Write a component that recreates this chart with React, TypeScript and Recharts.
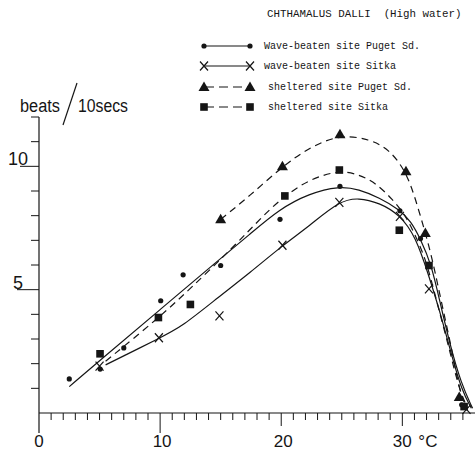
import { ComposedChart, Line, Scatter, XAxis, YAxis, Customized } from 'recharts'

// Heart beat rate (beats per 10 s) against temperature (°C), Chthamalus dalli at high water

// measured readings
const wavePugetTemp = [2.5, 5.05, 7, 10.05, 11.9, 15, 19.9, 24.85, 29.8, 31.5, 34.9]
const wavePugetRate = [1.38, 1.78, 2.64, 4.55, 5.6, 5.98, 7.85, 9.19, 8.2, 7.07, 0.33]

const waveSitkaTemp = [5, 9.9, 14.9, 20.1, 24.8, 29.8, 32.2, 35.3]
const waveSitkaRate = [1.9, 3.05, 3.94, 6.8, 8.54, 7.97, 5.03, 0.15]

const shelteredPugetTemp = [15, 20.1, 24.85, 30.3, 31.9, 34.7]
const shelteredPugetRate = [7.85, 10.0, 11.3, 9.8, 7.3, 0.65]

const shelteredSitkaTemp = [5.04, 9.86, 12.5, 20.3, 24.8, 29.75, 32.2, 35.1]
const shelteredSitkaRate = [2.4, 3.87, 4.4, 8.8, 9.85, 7.41, 5.98, 0.26]

// hand-fitted curves through each set of readings
const wavePugetCurveTemp = [2.5, 5, 10, 15, 17.4, 19.8, 22.3, 24.8, 26.4, 28.1, 29.75, 30.7, 31.5, 32.4, 33.06, 33.9, 34.85, 35.8]
const wavePugetCurveRate = [1.07, 2.12, 4.19, 6.27, 7.24, 8.25, 8.9, 9.2, 9.07, 8.73, 8.25, 7.78, 7.06, 6.02, 4.6, 2.83, 1.2, 0.19]

const waveSitkaCurveTemp = [5.5, 10, 11.8, 14.9, 17.4, 20.1, 22.3, 24.8, 26.4, 28.1, 29.75, 31.1, 32.2, 33.06, 34.1, 34.9, 35.7]
const waveSitkaCurveRate = [1.95, 3.05, 3.5, 4.73, 5.68, 6.79, 7.57, 8.6, 8.73, 8.52, 8.05, 7.17, 5.54, 4.19, 2.29, 0.93, 0.19]

const shelteredPugetCurveTemp = [15, 17.4, 20.1, 22.3, 24.85, 27.3, 28.9, 30.3, 31.1, 31.9, 32.5, 33.3, 34.1, 34.7, 35.3]
const shelteredPugetCurveRate = [7.85, 8.8, 10.0, 10.76, 11.3, 11.1, 10.7, 9.8, 8.66, 7.3, 6.2, 4.32, 2.56, 0.93, 0.19]

const shelteredSitkaCurveTemp = [5.5, 10, 12.5, 16, 18.7, 20.3, 22.3, 24.8, 26.4, 27.8, 29.2, 30.3, 31.1, 31.95, 32.8, 33.9, 34.7, 35.4]
const shelteredSitkaCurveRate = [2.1, 3.9, 5.05, 6.7, 8.1, 8.8, 9.47, 9.85, 9.67, 9.33, 8.66, 7.98, 7.17, 6.22, 4.6, 2.56, 0.93, 0.19]

const legendLabels = [
  'Wave-beaten site Puget Sd.',
  'wave-beaten site Sitka',
  'sheltered site Puget Sd.',
  'sheltered site Sitka',
]

const xTicks = Array.from({ length: 36 }, (_, i) => i)
const yTicks = Array.from({ length: 13 }, (_, i) => i)
const xLabelTicks = [0, 10, 20, 30]
const yLabelTicks = [5, 10]

const INK = '#151515'
const DASH = '7 5'
const MONO = '"Liberation Mono", "DejaVu Sans Mono", monospace'
const SANS = '"Liberation Sans", Arial, sans-serif'

const toPoints = (temps: number[], rates: number[]) => temps.map((t, i) => ({ t, v: rates[i] }))

// marker glyphs
const DotMark = ({ cx, cy }: any) => <circle cx={cx} cy={cy} r={2.6} fill={INK} />
const CrossMark = ({ cx, cy }: any) => (
  <path
    d={`M${cx - 4},${cy - 4.5}L${cx + 4},${cy + 4.5}M${cx + 4},${cy - 4.5}L${cx - 4},${cy + 4.5}`}
    stroke={INK}
    strokeWidth={1.2}
    fill="none"
  />
)
const TriMark = ({ cx, cy }: any) => (
  <polygon points={`${cx},${cy - 5.5} ${cx + 5.5},${cy + 4} ${cx - 5.5},${cy + 4}`} fill={INK} />
)
const SquareMark = ({ cx, cy }: any) => <rect x={cx - 3.8} y={cy - 3.8} width={7.6} height={7.6} fill={INK} />

const markers = [DotMark, CrossMark, TriMark, SquareMark]

const XTick = ({ x, y, payload }: any) => {
  const v = payload.value
  if (v === 0) {
    // axis continues a little below the origin
    return (
      <g>
        <line x1={x} y1={y} x2={x} y2={y + 20} stroke={INK} strokeWidth={1.2} />
        <text x={x} y={y + 34} textAnchor="middle" fontFamily={SANS} fontSize={17} fill={INK}>0</text>
      </g>
    )
  }
  const labelled = xLabelTicks.includes(v)
  const len = v === 10 ? 20 : labelled ? 13 : 7
  return (
    <g>
      <line x1={x} y1={y} x2={x} y2={y + len} stroke={INK} strokeWidth={1} />
      {labelled && v !== 30 && (
        <text x={x + 2} y={y + 34} textAnchor="middle" fontFamily={SANS} fontSize={17} fill={INK}>{v}</text>
      )}
      {v === 30 && (
        <g>
          <text x={x} y={y + 34} textAnchor="middle" fontFamily={SANS} fontSize={17} fill={INK}>30</text>
          <text x={x + 16} y={y + 34} fontFamily={SANS} fontSize={17} fill={INK}>°C</text>
        </g>
      )}
    </g>
  )
}

const YTick = ({ x, y, payload }: any) => {
  const v = payload.value
  if (v === 0) return <g />
  const labelled = yLabelTicks.includes(v)
  const len = v === 5 ? 22 : v === 10 ? 19 : 8
  return (
    <g>
      <line x1={x} y1={y} x2={x - len} y2={y} stroke={INK} strokeWidth={1} />
      {labelled && (
        <text x={18} y={y - 1} textAnchor="middle" fontFamily={SANS} fontSize={18} fill={INK}>{v}</text>
      )}
    </g>
  )
}

// title, key and vertical axis caption
const Annotations = () => {
  const rows = [46, 66, 87, 107]
  return (
    <g>
      <text x={267} y={17} fontFamily={MONO} fontSize={10.8} fill={INK} style={{ whiteSpace: 'pre' }}>
        CHTHAMALUS DALLI  (High water)
      </text>
      {legendLabels.map((label, i) => {
        const Mark = markers[i]
        const y = rows[i]
        return (
          <g key={label}>
            <line x1={205} y1={y} x2={250} y2={y} stroke={INK} strokeWidth={1.1} strokeDasharray={i >= 2 ? '9 5' : undefined} />
            <Mark cx={204} cy={y} />
            <Mark cx={250} cy={y} />
            <text x={264 + (i >= 2 ? 4 : 0)} y={y + 3} fontFamily={MONO} fontSize={10} fill={INK}>{label}</text>
          </g>
        )
      })}
      <text x={20} y={112} fontFamily={SANS} fontSize={18} fill={INK} textLength={40} lengthAdjust="spacingAndGlyphs">beats</text>
      <line x1={63} y1={125} x2={77} y2={83} stroke={INK} strokeWidth={1.2} />
      <text x={78} y={112} fontFamily={SANS} fontSize={18} fill={INK} textLength={50} lengthAdjust="spacingAndGlyphs">10secs</text>
    </g>
  )
}

const series = [
  { curve: toPoints(wavePugetCurveTemp, wavePugetCurveRate), pts: toPoints(wavePugetTemp, wavePugetRate), dashed: false },
  { curve: toPoints(waveSitkaCurveTemp, waveSitkaCurveRate), pts: toPoints(waveSitkaTemp, waveSitkaRate), dashed: false },
  { curve: toPoints(shelteredPugetCurveTemp, shelteredPugetCurveRate), pts: toPoints(shelteredPugetTemp, shelteredPugetRate), dashed: true },
  { curve: toPoints(shelteredSitkaCurveTemp, shelteredSitkaCurveRate), pts: toPoints(shelteredSitkaTemp, shelteredSitkaRate), dashed: true },
]

export default function App() {
  return (
    <div style={{ position: 'absolute', left: 0, top: 0, width: 475, height: 451, background: '#fff' }}>
      <ComposedChart width={475} height={451} margin={{ top: 117, right: 0, bottom: 0, left: 0 }}>
        <XAxis
          type="number"
          dataKey="t"
          domain={[0, 36]}
          ticks={xTicks}
          interval={0}
          height={38}
          tickSize={0}
          tickMargin={0}
          tickLine={false}
          axisLine={{ stroke: INK, strokeWidth: 1.2 }}
          tick={(p: any) => <XTick {...p} />}
        />
        <YAxis
          type="number"
          domain={[0, 12]}
          ticks={yTicks}
          interval={0}
          width={39}
          tickSize={0}
          tickMargin={0}
          tickLine={false}
          axisLine={{ stroke: INK, strokeWidth: 1.2 }}
          tick={(p: any) => <YTick {...p} />}
        />
        {series.map((s, i) => (
          <Line
            key={`curve-${i}`}
            data={s.curve}
            dataKey="v"
            type="basis"
            stroke={INK}
            strokeWidth={1.2}
            strokeDasharray={s.dashed ? DASH : undefined}
            dot={false}
            activeDot={false}
            isAnimationActive={false}
          />
        ))}
        {series.map((s, i) => {
          const Mark = markers[i]
          return (
            <Scatter
              key={`pts-${i}`}
              data={s.pts}
              dataKey="v"
              shape={(p: any) => <Mark cx={p.cx} cy={p.cy} />}
              isAnimationActive={false}
            />
          )
        })}
        <Customized component={Annotations} />
      </ComposedChart>
    </div>
  )
}
